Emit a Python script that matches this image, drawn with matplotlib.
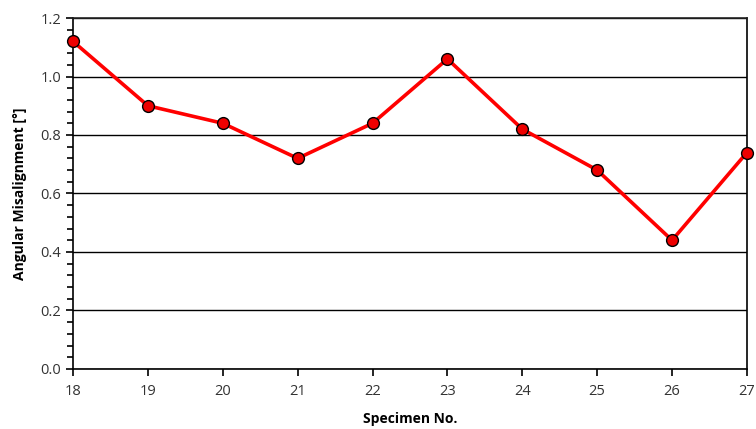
import matplotlib.pyplot as plt
from matplotlib.ticker import MultipleLocator

specimen = [18, 19, 20, 21, 22, 23, 24, 25, 26, 27]
misalignment = [1.12, 0.90, 0.84, 0.72, 0.84, 1.06, 0.82, 0.68, 0.44, 0.74]

plt.rcParams['font.family'] = ['Open Sans', 'DejaVu Sans']

fig = plt.figure(figsize=(7.56, 4.29), dpi=100)
ax = fig.add_axes([0.0966, 0.14, 0.8914, 0.818])

ax.plot(specimen, misalignment, color='#ff0000', linewidth=2.6, marker='o',
        markersize=8.5, markerfacecolor='#ee0000', markeredgecolor='black',
        markeredgewidth=1.0, zorder=3, clip_on=False)

ax.set_xlim(18, 27)
ax.set_ylim(0, 1.2)
ax.set_xticks(specimen)
ax.yaxis.set_major_locator(MultipleLocator(0.2))
ax.yaxis.set_minor_locator(MultipleLocator(0.04))
ax.yaxis.set_major_formatter(lambda v, p: '%.1f' % v)
ax.grid(True, axis='y', which='major', color='black', linewidth=1.0, zorder=0)

for s in ax.spines.values():
    s.set_linewidth(1.2)
    s.set_color('black')
ax.spines['top'].set_color('#222222')

ax.tick_params(axis='both', which='major', direction='out', length=5, width=1.2,
               labelsize=10.5, colors='black', labelcolor='#333333')
ax.tick_params(axis='y', which='minor', direction='out', length=4, width=1.2)
ax.tick_params(axis='x', pad=6)

ax.set_xlabel('Specimen No.', fontsize=10, fontweight='bold', labelpad=9)
ax.set_ylabel('Angular Misalignment [°]', fontsize=10, fontweight='bold', labelpad=10)

fig.savefig('out.png', dpi=100)
